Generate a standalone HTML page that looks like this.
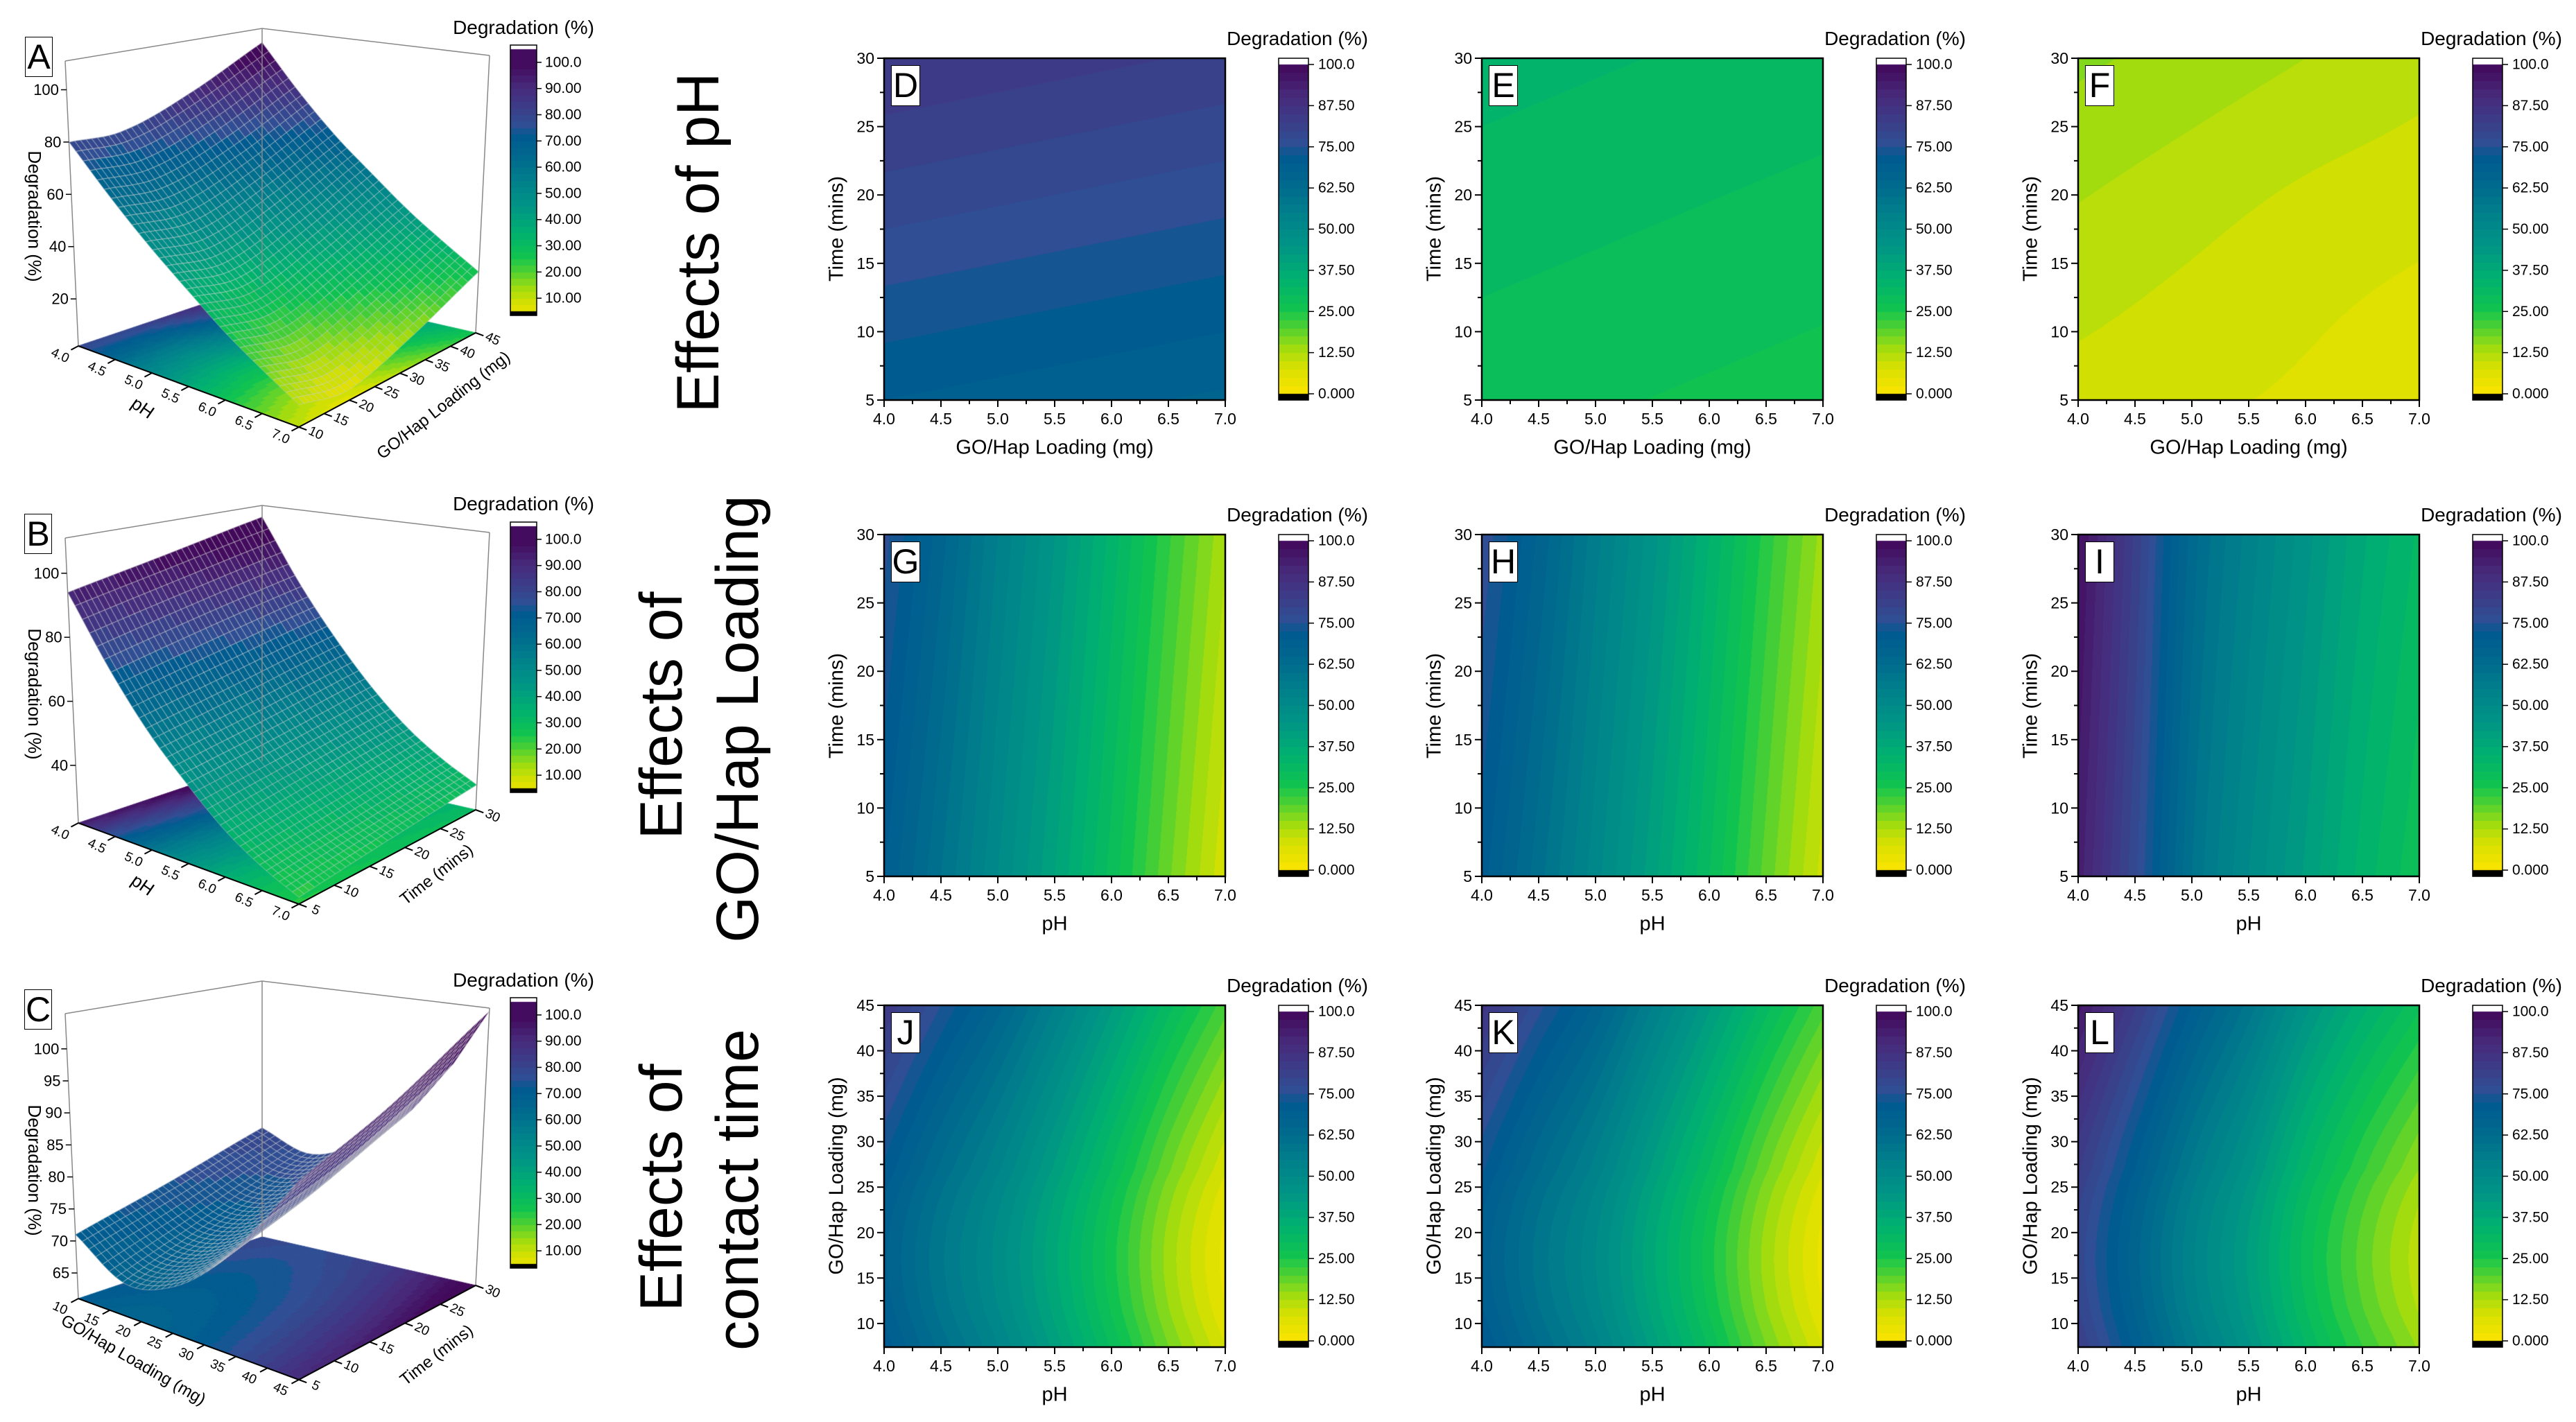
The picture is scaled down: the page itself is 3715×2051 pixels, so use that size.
<!DOCTYPE html>
<html><head><meta charset="utf-8">
<style>
html,body{margin:0;padding:0;background:#fff;}
#root{position:relative;width:3715px;height:2051px;overflow:hidden;background:#fff;font-family:"Liberation Sans",Arial,sans-serif;color:#000;}
canvas,svg{position:absolute;left:0;top:0;}
.t{position:absolute;white-space:nowrap;transform:translate(-50%,-50%);line-height:1;}
.rv{transform:translate(-50%,-50%) rotate(-90deg);}
.rv90{transform:translate(-50%,-50%) rotate(90deg);}
.lbl{position:absolute;background:#fff;border:1.5px solid #000;font-size:50px;line-height:56px;text-align:center;box-sizing:border-box;}
.row{font-size:86px;}
</style></head>
<body>
<div id="root">
<canvas id="cv" width="3715" height="2051"></canvas>
<svg id="ov" width="3715" height="2051"></svg>

<div class="t rv row" style="left:1007px;top:350px">Effects of pH</div>
<div class="t rv row" style="left:954px;top:1032px">Effects of</div>
<div class="t rv row" style="left:1064px;top:1037px">GO/Hap Loading</div>
<div class="t rv row" style="left:954px;top:1713px">Effects of</div>
<div class="t rv row" style="left:1064px;top:1716px">contact time</div>

<div class="lbl" style="left:36px;top:53px;width:40px;height:58px">A</div>
<div class="lbl" style="left:35px;top:741px;width:40px;height:58px">B</div>
<div class="lbl" style="left:35px;top:1427px;width:40px;height:58px">C</div>
<div class="t" style="left:755px;top:40px;font-size:28px">Degradation (%)</div>
<div class="t" style="left:755px;top:727px;font-size:28px">Degradation (%)</div>
<div class="t" style="left:755px;top:1414px;font-size:28px">Degradation (%)</div>
<div class="t rv90" style="left:50px;top:312px;font-size:26px">Degradation (%)</div>
<div class="t rv90" style="left:50px;top:1001px;font-size:26px">Degradation (%)</div>
<div class="t rv90" style="left:50px;top:1688px;font-size:26px">Degradation (%)</div>
<div class="t" style="left:206px;top:588px;font-size:26px;transform:translate(-50%,-50%) rotate(35deg)">pH</div>
<div class="t" style="left:640px;top:585px;font-size:24px;transform:translate(-50%,-50%) rotate(-38deg)">GO/Hap Loading (mg)</div>
<div class="t" style="left:206px;top:1276px;font-size:26px;transform:translate(-50%,-50%) rotate(35deg)">pH</div>
<div class="t" style="left:630px;top:1262px;font-size:24px;transform:translate(-50%,-50%) rotate(-38deg)">Time (mins)</div>
<div class="t" style="left:192px;top:1962px;font-size:24px;transform:translate(-50%,-50%) rotate(30deg)">GO/Hap Loading (mg)</div>
<div class="t" style="left:630px;top:1955px;font-size:24px;transform:translate(-50%,-50%) rotate(-38deg)">Time (mins)</div>

<div class="lbl" style="left:1285px;top:94px;width:42px;height:59px">D</div>
<div class="lbl" style="left:2147px;top:94px;width:42px;height:59px">E</div>
<div class="lbl" style="left:3007px;top:94px;width:42px;height:59px">F</div>
<div class="lbl" style="left:1285px;top:781px;width:42px;height:59px">G</div>
<div class="lbl" style="left:2147px;top:781px;width:42px;height:59px">H</div>
<div class="lbl" style="left:3007px;top:781px;width:42px;height:59px">I</div>
<div class="lbl" style="left:1285px;top:1460px;width:42px;height:59px">J</div>
<div class="lbl" style="left:2147px;top:1460px;width:42px;height:59px">K</div>
<div class="lbl" style="left:3007px;top:1460px;width:42px;height:59px">L</div>

<div class="t" style="left:1871px;top:56px;font-size:28px">Degradation (%)</div>
<div class="t" style="left:2733px;top:56px;font-size:28px">Degradation (%)</div>
<div class="t" style="left:3593px;top:56px;font-size:28px">Degradation (%)</div>
<div class="t" style="left:1871px;top:743px;font-size:28px">Degradation (%)</div>
<div class="t" style="left:2733px;top:743px;font-size:28px">Degradation (%)</div>
<div class="t" style="left:3593px;top:743px;font-size:28px">Degradation (%)</div>
<div class="t" style="left:1871px;top:1422px;font-size:28px">Degradation (%)</div>
<div class="t" style="left:2733px;top:1422px;font-size:28px">Degradation (%)</div>
<div class="t" style="left:3593px;top:1422px;font-size:28px">Degradation (%)</div>

<div class="t" style="left:1521px;top:646px;font-size:29px">GO/Hap Loading (mg)</div>
<div class="t" style="left:2383px;top:646px;font-size:29px">GO/Hap Loading (mg)</div>
<div class="t" style="left:3243px;top:646px;font-size:29px">GO/Hap Loading (mg)</div>
<div class="t" style="left:1521px;top:1333px;font-size:29px">pH</div>
<div class="t" style="left:2383px;top:1333px;font-size:29px">pH</div>
<div class="t" style="left:3243px;top:1333px;font-size:29px">pH</div>
<div class="t" style="left:1521px;top:2012px;font-size:29px">pH</div>
<div class="t" style="left:2383px;top:2012px;font-size:29px">pH</div>
<div class="t" style="left:3243px;top:2012px;font-size:29px">pH</div>
<div class="t rv" style="left:1207px;top:330px;font-size:29px">Time (mins)</div>
<div class="t rv" style="left:2069px;top:330px;font-size:29px">Time (mins)</div>
<div class="t rv" style="left:2929px;top:330px;font-size:29px">Time (mins)</div>
<div class="t rv" style="left:1207px;top:1018px;font-size:29px">Time (mins)</div>
<div class="t rv" style="left:2069px;top:1018px;font-size:29px">Time (mins)</div>
<div class="t rv" style="left:2929px;top:1018px;font-size:29px">Time (mins)</div>
<div class="t rv" style="left:1207px;top:1696px;font-size:29px">GO/Hap Loading (mg)</div>
<div class="t rv" style="left:2069px;top:1696px;font-size:29px">GO/Hap Loading (mg)</div>
<div class="t rv" style="left:2929px;top:1696px;font-size:29px">GO/Hap Loading (mg)</div>
</div>

<script>
// ---------- data ----------
const xsLoadD = [4, 5, 6, 7];
const xsPH = [4, 4.5, 5, 5.5, 6, 6.5, 7];
const ysTime = [5, 17.5, 30];
const ysLoadJ = [7.5, 12, 17, 22, 27, 36, 45];
const valsD = [[70,69,68,67],[77.5,76.5,75.5,74.5],[85,84,83,82]];
const valsE = [[28.5,27.8,27.1,26.4],[31,30.3,29.6,28.9],[33.5,32.8,32.1,31.4]];
const valsF = [[9,8,7,5.5],[12,10.5,9,8],[15.5,14,12.5,11]];
const valsG = [[70,60,50,40,29,18,8],[73,63,52.5,42.5,31.5,20.5,10.5],[76,66,55,45,34,23,13]];
const valsH = [[71,61,51,41,30,19,9],[74,64,53.5,43.5,32.5,21.5,11.5],[77,67,56,46,35,24,14]];
const valsI = [[94,78,60,50,42,34,28],[96,80,62,52,44,36,30],[98,82,64,54,46,38,32]];
const valsJ = [[71.5,61.5,52.5,41.5,29.5,17.5,7.5],[69,59,50,39,27,15,5],[68,58,49,38,26,14,4],[69,59,50,39,27,15,5],[72,62,53,42,30,18,8],[78,68,59,48,36,24,14],[85,75,66,55,43,31,21]];
const valsK = [[72.5,62.5,53.5,41.5,29.5,17.5,7.5],[70,60,51,39,27,15,5],[69,59,50,38,26,14,4],[70,60,51,39,27,15,5],[73,63,54,42,30,18,8],[79,69,60,48,36,24,14],[86,76,67,55,43,31,21]];
const valsL = [[82.5,69.5,56.5,45.5,32.5,22.5,14.5],[80,67,54,43,30,20,12],[79,66,53,42,29,19,11],[80,67,54,43,30,20,12],[83,70,57,46,33,23,15],[89,76,63,52,39,29,21],[96,83,70,59,46,36,28]];
const xTicksPH = ['4.0','4.5','5.0','5.5','6.0','6.5','7.0'];
const yTicksTime = ['5','10','15','20','25','30'];
const yTicksLoad = ['10','15','20','25','30','35','40','45'];
const cbTicks = ['0.000','12.50','25.00','37.50','50.00','62.50','75.00','87.50','100.0'];
const cbTicks3D = ['10.00','20.00','30.00','40.00','50.00','60.00','70.00','80.00','90.00','100.0'];
const xsPHA = [4, 4.5, 5, 5.5, 6, 6.5, 7];
const ysLoadA = [10, 20, 32.5, 45];
const valsA = [[80,64,50,38,27,18,10],[80,63,48,35,24,14,6],[90,72,57,44,33,23,14],[105,86,70,57,45,35,26]];
const valsB = [[94,74,58,46,36,29,24],[100,80,63,50,40,32,27],[107,86,69,55,44,36,30]];
const xsLoadC = [10, 17.5, 25, 32.5, 40, 45];
const valsC = [[71,66,68,74,83,90],[75,71,73,79,88,96],[80,77,80,86,96,105]];
const zTicksA = ['20','40','60','80','100'];
const zTicksB = ['40','60','80','100'];
const zTicksC = ['65','70','75','80','85','90','95','100'];
const loadTicks3D = ['10','15','20','25','30','35','40','45'];
const timeTicks3D = ['5','10','15','20','25','30'];

// ---------- helpers ----------
const stops = [[0,[251,228,0]],[8,[216,224,0]],[14,[160,220,16]],[20,[80,208,48]],[26,[16,196,80]],[35,[0,176,112]],[45,[0,149,133]],[55,[0,127,140]],[65,[0,102,142]],[72,[0,90,144]],[76,[47,79,148]],[82,[58,63,138]],[90,[72,43,124]],[100,[66,8,90]]];
function cmap(v){
  v=Math.max(0,Math.min(100,v));
  for(let i=0;i<stops.length-1;i++){
    const a=stops[i],b=stops[i+1];
    if(v<=b[0]){const f=(v-a[0])/(b[0]-a[0]);return [0,1,2].map(k=>Math.round(a[1][k]+(b[1][k]-a[1][k])*f));}
  }
  return stops[stops.length-1][1];
}
function band(v){return Math.floor(v/2.5)*2.5+1.25;}
function rgb(c){return 'rgb('+c[0]+','+c[1]+','+c[2]+')';}
function seg(arr,t){let i=0;while(i<arr.length-2&&t>arr[i+1])i++;let f=(t-arr[i])/(arr[i+1]-arr[i]);f=Math.max(0,Math.min(1,f));return [i,f];}
function cr(p0,p1,p2,p3,t){return 0.5*((2*p1)+(-p0+p2)*t+(2*p0-5*p1+4*p2-p3)*t*t+(-p0+3*p1-3*p2+p3)*t*t*t);}
function at(arr,k){const n=arr.length;if(k<0)return 2*arr[0]-arr[1];if(k>=n)return 2*arr[n-1]-arr[n-2];return arr[k];}
function interp1(arr,i,f){return cr(at(arr,i-1),at(arr,i),at(arr,i+1),at(arr,i+2),f);}
function sample(xs,ys,vals,x,y){
  const [i,fx]=seg(xs,x),[j,fy]=seg(ys,y);
  const col=vals.map(row=>interp1(row,i,fx));
  return interp1(col,j,fy);
}
const NS='http://www.w3.org/2000/svg';
const ov=document.getElementById('ov');
const ctx=document.getElementById('cv').getContext('2d');
function line(x1,y1,x2,y2,col,w){const l=document.createElementNS(NS,'line');l.setAttribute('x1',x1);l.setAttribute('y1',y1);l.setAttribute('x2',x2);l.setAttribute('y2',y2);l.setAttribute('stroke',col);l.setAttribute('stroke-width',w);ov.appendChild(l);return l;}
function txt(x,y,s,size,anchor,rot){const t=document.createElementNS(NS,'text');t.setAttribute('x',x);t.setAttribute('y',y);t.setAttribute('font-size',size);t.setAttribute('font-family','Liberation Sans, Arial, sans-serif');t.setAttribute('text-anchor',anchor);t.setAttribute('dominant-baseline','central');if(rot)t.setAttribute('transform','rotate('+rot+' '+x+' '+y+')');t.textContent=s;ov.appendChild(t);return t;}

// ---------- contour panels ----------
const PW=492,PH=493;
const panels=[
 {id:'d',X0:1275,T:84,xs:xsLoadD,ys:ysTime,vals:valsD,yr:[5,30],yt:yTicksTime},
 {id:'e',X0:2137,T:84,xs:xsLoadD,ys:ysTime,vals:valsE,yr:[5,30],yt:yTicksTime},
 {id:'f',X0:2997,T:84,xs:xsLoadD,ys:ysTime,vals:valsF,yr:[5,30],yt:yTicksTime},
 {id:'g',X0:1275,T:771,xs:xsPH,ys:ysTime,vals:valsG,yr:[5,30],yt:yTicksTime},
 {id:'h',X0:2137,T:771,xs:xsPH,ys:ysTime,vals:valsH,yr:[5,30],yt:yTicksTime},
 {id:'i',X0:2997,T:771,xs:xsPH,ys:ysTime,vals:valsI,yr:[5,30],yt:yTicksTime},
 {id:'j',X0:1275,T:1450,xs:xsPH,ys:ysLoadJ,vals:valsJ,yr:[7.4,45],yt:yTicksLoad},
 {id:'k',X0:2137,T:1450,xs:xsPH,ys:ysLoadJ,vals:valsK,yr:[7.4,45],yt:yTicksLoad},
 {id:'l',X0:2997,T:1450,xs:xsPH,ys:ysLoadJ,vals:valsL,yr:[7.4,45],yt:yTicksLoad}
];
panels.forEach(p=>{
  const img=ctx.createImageData(PW,PH);
  const sx=x=>p.X0+(x-4)/3*PW, sy=y=>p.T+PH-(y-p.yr[0])/(p.yr[1]-p.yr[0])*PH;
  for(let py=0;py<PH;py++){
    const yv=p.yr[1]-(py+0.5)/PH*(p.yr[1]-p.yr[0]);
    for(let px=0;px<PW;px++){
      const xv=4+(px+0.5)/PW*3;
      const c=cmap(band(sample(p.xs,p.ys,p.vals,xv,yv)));
      const k=(py*PW+px)*4;img.data[k]=c[0];img.data[k+1]=c[1];img.data[k+2]=c[2];img.data[k+3]=255;
    }
  }
  ctx.putImageData(img,p.X0,p.T);
  const r=document.createElementNS(NS,'rect');
  r.setAttribute('x',p.X0);r.setAttribute('y',p.T);r.setAttribute('width',PW);r.setAttribute('height',PH);r.setAttribute('fill','none');r.setAttribute('stroke','#000');r.setAttribute('stroke-width','2.5');
  
  
  ov.appendChild(r);
  xTicksPH.forEach((s,i)=>{
    const x=sx(parseFloat(s));
    const tk=line(x,p.T+PH,x,p.T+PH+10,'#000',2);
    
    
    const lb=txt(x,p.T+PH+27,s,23,'middle');
    
    
    if(i<xTicksPH.length-1){const m=line(sx(parseFloat(s)+0.25),p.T+PH,sx(parseFloat(s)+0.25),p.T+PH+6,'#000',2);
      
      }
  });
  p.yt.forEach((s,i)=>{
    const v=parseFloat(s),y=sy(v);
    const tk=line(p.X0-10,y,p.X0,y,'#000',2);
    
    
    const lb=txt(p.X0-14,y,s,23,'end');
    
    
    if(i<p.yt.length-1){const step=parseFloat(p.yt[1])-parseFloat(p.yt[0]);const m=line(p.X0-6,sy(v+step/2),p.X0,sy(v+step/2),'#000',2);
      
      }
  });
  const cx=p.X0+569,cw=43,ct=p.T+9,cb=p.T+484;
  for(let y=ct;y<cb;y++){const v=100-(y-ct)/(cb-ct)*100;ctx.fillStyle=rgb(cmap(band(Math.min(99.9,v))));ctx.fillRect(cx,y,cw,1);}
  ctx.fillStyle='#fff';ctx.fillRect(cx,p.T,cw,9);
  ctx.fillStyle='#000';ctx.fillRect(cx,cb,cw,p.T+PH-cb);
  const crr=document.createElementNS(NS,'rect');
  crr.setAttribute('x',cx);crr.setAttribute('y',p.T);crr.setAttribute('width',cw);crr.setAttribute('height',PH);crr.setAttribute('fill','none');crr.setAttribute('stroke','#000');crr.setAttribute('stroke-width','1.5');
  
  
  ov.appendChild(crr);
  cbTicks.forEach(s=>{
    const y=cb-parseFloat(s)/100*(cb-ct);
    const tk=line(cx+cw,y,cx+cw+8,y,'#000',1.5);
    
    
    const lb=txt(cx+cw+14,y,s,21,'start');
    
    
  });
});

// ---------- 3D panels ----------
const geo={F:[431,616],L:[113,499],R:[686,480],B:[378,410],hF:440,hL:411,hR:400,hB:369,lF:0,lL:-19,lR:20,lB:0};
function proj(u,v,h,dy){
  const wf=(1-u)*(1-v),wl=u*(1-v),wr=(1-u)*v,wb=u*v;
  const x=wf*geo.F[0]+wl*geo.L[0]+wr*geo.R[0]+wb*geo.B[0];
  const y=wf*geo.F[1]+wl*geo.L[1]+wr*geo.R[1]+wb*geo.B[1];
  const hp=wf*geo.hF+wl*geo.hL+wr*geo.hR+wb*geo.hB;
  const ln=wf*geo.lF+wl*geo.lL+wr*geo.lR+wb*geo.lB;
  return [x+ln*h,y+dy-hp*h];
}
const p3=[
 {id:'a',dy:0,xs:xsPHA,ys:ysLoadA,vals:valsA,xr:[4,7],yr:[10,45],zr:[2,111],zt:zTicksA,ut:xTicksPH,vt:loadTicks3D},
 {id:'b',dy:688,xs:xsPH,ys:ysTime,vals:valsB,xr:[4,7],yr:[5,30],zr:[22,111],zt:zTicksB,ut:xTicksPH,vt:timeTicks3D},
 {id:'c',dy:1374,xs:xsLoadC,ys:ysTime,vals:valsC,xr:[10,45],yr:[5,30],zr:[61,105.5],zt:zTicksC,ut:loadTicks3D,vt:timeTicks3D}
];
function quad(pts,fill,stroke){ctx.beginPath();ctx.moveTo(pts[0][0],pts[0][1]);for(let k=1;k<4;k++)ctx.lineTo(pts[k][0],pts[k][1]);ctx.closePath();ctx.fillStyle=fill;ctx.fill();ctx.strokeStyle=stroke;ctx.lineWidth=1;ctx.stroke();}
p3.forEach(p=>{
  const val=(u,v)=>sample(p.xs,p.ys,p.vals,p.xr[1]-u*(p.xr[1]-p.xr[0]),p.yr[0]+v*(p.yr[1]-p.yr[0]));
  const hz=z=>(z-p.zr[0])/(p.zr[1]-p.zr[0]);
  const NF=60;
  for(let i=0;i<NF;i++)for(let j=0;j<NF;j++){
    const u0=i/NF,u1=(i+1)/NF,v0=j/NF,v1=(j+1)/NF;
    const c=rgb(cmap(band(val((u0+u1)/2,(v0+v1)/2))));
    quad([proj(u0,v0,0,p.dy),proj(u1,v0,0,p.dy),proj(u1,v1,0,p.dy),proj(u0,v1,0,p.dy)],c,c);
  }
  [[1,1],[1,0],[0,1]].forEach(([u,v])=>{const a=proj(u,v,0,p.dy),b=proj(u,v,1,p.dy);const l=line(a[0],a[1],b[0],b[1],'#888',1.5);
    
    });
  [[[1,0],[1,1]],[[1,1],[0,1]]].forEach(([s,e])=>{const a=proj(s[0],s[1],1,p.dy),b=proj(e[0],e[1],1,p.dy);const l=line(a[0],a[1],b[0],b[1],'#888',1.5);
    
    });
  const N=34,cells=[];
  for(let i=0;i<N;i++)for(let j=0;j<N;j++)cells.push([i,j]);
  cells.sort((a,b)=>(b[0]+b[1])-(a[0]+a[1]));
  cells.forEach(([i,j])=>{
    const u0=i/N,u1=(i+1)/N,v0=j/N,v1=(j+1)/N;
    const pts=[[u0,v0],[u1,v0],[u1,v1],[u0,v1]].map(([u,v])=>proj(u,v,hz(val(u,v)),p.dy));
    quad(pts,rgb(cmap(band(val((u0+u1)/2,(v0+v1)/2)))),'rgba(205,205,205,0.55)');
  });
  const pl=proj(1,0,0,p.dy),pf=proj(0,0,0,p.dy),pr=proj(0,1,0,p.dy);
  const e1=line(pl[0],pl[1],pf[0],pf[1],'#000',2);
  
  
  const e2=line(pf[0],pf[1],pr[0],pr[1],'#000',2);
  
  
  const d1=[-0.88,0.47],d2=[0.938,0.345];
  p.ut.forEach(s=>{
    const u=(p.xr[1]-parseFloat(s))/(p.xr[1]-p.xr[0]);const a=proj(u,0,0,p.dy);
    const tk=line(a[0],a[1],a[0]+d1[0]*12,a[1]+d1[1]*12,'#000',2);
    
    
    const lb=txt(a[0]+d1[0]*30,a[1]+d1[1]*30,s,19,'middle',25);
    
    
  });
  p.vt.forEach(s=>{
    const v=(parseFloat(s)-p.yr[0])/(p.yr[1]-p.yr[0]);const a=proj(0,v,0,p.dy);
    const tk=line(a[0],a[1],a[0]+d2[0]*12,a[1]+d2[1]*12,'#000',2);
    
    
    const lb=txt(a[0]+d2[0]*26,a[1]+d2[1]*26,s,19,'middle',25);
    
    
  });
  p.zt.forEach(s=>{
    const a=proj(1,0,hz(parseFloat(s)),p.dy);
    const tk=line(a[0]-8,a[1],a[0],a[1],'#000',1.5);
    
    
    const lb=txt(a[0]-11,a[1],s,22,'end');
    
    
  });
  const cx=736,cw=38,top=65+p.dy,ct=71+p.dy,cb=449+p.dy;
  for(let y=ct;y<cb;y++){const v=105-(y-ct)/(cb-ct)*100;ctx.fillStyle=rgb(cmap(band(Math.min(99.9,v))));ctx.fillRect(cx,y,cw,1);}
  ctx.fillStyle='#fff';ctx.fillRect(cx,top,cw,ct-top);
  ctx.fillStyle='#000';ctx.fillRect(cx,cb,cw,6);
  const crr=document.createElementNS(NS,'rect');
  crr.setAttribute('x',cx);crr.setAttribute('y',top);crr.setAttribute('width',cw);crr.setAttribute('height',cb+6-top);crr.setAttribute('fill','none');crr.setAttribute('stroke','#000');crr.setAttribute('stroke-width','1.5');
  
  
  ov.appendChild(crr);
  cbTicks3D.forEach(s=>{
    const y=cb-(parseFloat(s)-5)/100*(cb-ct);
    const tk=line(cx+cw,y,cx+cw+7,y,'#000',1.5);
    
    
    const lb=txt(cx+cw+12,y,s,21,'start');
    
    
  });
});
</script>
</body></html>
